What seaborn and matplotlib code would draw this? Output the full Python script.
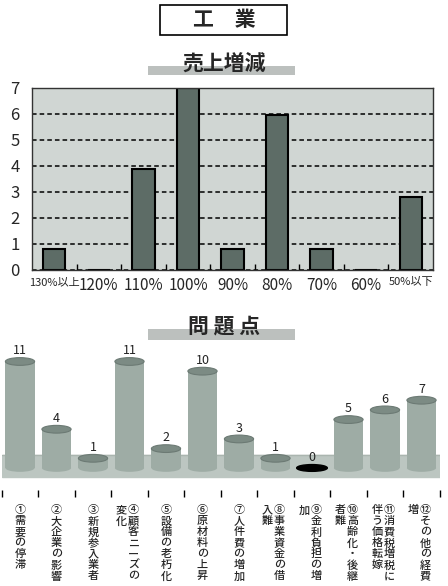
import matplotlib
matplotlib.use("Agg")
import matplotlib.pyplot as plt
import matplotlib.patches as mpatches
import pandas as pd
import seaborn as sns

# 売上増減
sales_labels = ["130%以上", "120%", "110%", "100%", "90%", "80%", "70%", "60%", "50%以下"]
sales_counts = [0.8, 0, 3.9, 7, 0.8, 5.95, 0.8, 0, 2.8]

# 問題点
problem_values = [11, 4, 1, 11, 2, 10, 3, 1, 0, 5, 6, 7]
problem_labels = [
    ["①需要の停滞"],
    ["②大企業の影響"],
    ["③新規参入業者"],
    ["④顧客ニーズの", "変化"],
    ["⑤設備の老朽化"],
    ["⑥原材料の上昇"],
    ["⑦人件費の増加"],
    ["⑧事業資金の借", "入難"],
    ["⑨金利負担の増", "加"],
    ["⑩高齢化・後継", "者難"],
    ["⑪消費税増税に", "伴う価格転嫁"],
    ["⑫その他の経費", "増"],
]

sns.set_theme(style="white")
plt.rcParams["font.family"] = ["Noto Sans CJK JP", "DejaVu Sans"]

W, H = 448, 586
fig = plt.figure(figsize=(W / 100, H / 100), dpi=100)


def fig_rect(x, y, w, h, **kw):
    """rectangle in pixel coords (top-left origin)"""
    r = mpatches.Rectangle((x / W, 1 - (y + h) / H), w / W, h / H,
                           transform=fig.transFigure, **kw)
    fig.add_artist(r)


# titles
fig_rect(160, 5, 127, 30, fill=False, ec="black", lw=1.2)
fig.text(0.5, 1 - 20 / H, "工　業", ha="center", va="center",
         fontsize=15, fontweight="bold")

fig_rect(148, 66, 147, 9, fc="#bcc0be", ec="none")
fig.text(0.5, 1 - 63 / H, "売上増減", ha="center", va="center",
         fontsize=15, fontweight="bold")

fig_rect(148, 329, 147, 11, fc="#bcc0be", ec="none")
fig.text(0.5, 1 - 326 / H, "問 題 点", ha="center", va="center",
         fontsize=15, fontweight="bold")

# ---- top chart ----
ax1 = fig.add_axes([32 / W, 1 - 270 / H, 401 / W, 182 / H])
sns.barplot(x=sales_labels, y=sales_counts, ax=ax1, color="#5d6c66",
            saturation=1, width=0.5, edgecolor="black", linewidth=1.5)
ax1.set_facecolor("#d0d6d3")
ax1.set_xlim(-0.5, 8.5)
ax1.set_ylim(0, 7)
ax1.set_yticks(range(8))
ax1.yaxis.grid(True, linestyle=(0, (3, 2)), color="black", linewidth=1.1)
ax1.set_axisbelow(True)
ax1.set_xticks([i + 0.5 for i in range(8)], minor=True)
ax1.tick_params(axis="x", which="minor", direction="in", length=4,
                width=1, color="black", bottom=True)
ax1.tick_params(axis="x", which="major", length=0, pad=5, labelsize=11)
ax1.tick_params(axis="y", length=0, pad=9, labelsize=12)
for lbl in ax1.get_xticklabels():
    if "以" in lbl.get_text():
        lbl.set_fontsize(8)
        lbl.set_fontstretch("condensed")
for s in ax1.spines.values():
    s.set_color("#333333")
    s.set_linewidth(1)
ax1.set_xlabel("")
ax1.set_ylabel("")

# ---- bottom chart (cylinders) ----
ax2 = fig.add_axes([1.75 / W, 89 / H, 438 / W, 157 / H])
df2 = pd.DataFrame({"item": [str(i) for i in range(len(problem_values))],
                    "value": problem_values})
body = "#9eaca5"
sns.barplot(data=df2, x="item", y="value", ax=ax2, color=body,
            saturation=1, width=0.8, edgecolor="none")
ax2.set_xlim(-0.5, 11.5)
ax2.set_ylim(-3.0, 13.22)
ax2.axhspan(-0.93, 1.34, color="#bcc6c1", zorder=0.5)
ax2.axhline(1.34, color="#aab5af", lw=1, zorder=0.6)

for patch, v in zip(ax2.patches[:len(problem_values)], problem_values):
    cx = patch.get_x() + patch.get_width() / 2
    w = patch.get_width()
    if v == 0:
        ax2.add_patch(mpatches.Ellipse((cx, 0), w * 1.05, 0.7,
                                       fc="black", ec="black", zorder=3))
    else:
        ax2.add_patch(mpatches.Ellipse((cx, 0), w, 0.8, fc=body,
                                       ec="none", zorder=2))
        ax2.add_patch(mpatches.Ellipse((cx, v), w, 0.8, fc="#7c8b84",
                                       ec="#6c7a74", lw=0.8, zorder=3))
    ax2.text(cx, v + 0.45, str(v), ha="center", va="bottom",
             fontsize=9, color="#222222", zorder=4)

ax2.set_xticks(range(len(problem_values)))
ax2.set_xticklabels([])
ax2.set_xticks([i - 0.5 for i in range(len(problem_values) + 1)], minor=True)
ax2.tick_params(axis="x", which="major", length=0)
ax2.tick_params(axis="x", which="minor", direction="in", length=5,
                width=1, color="black", bottom=True)
ax2.set_yticks([])
for s in ax2.spines.values():
    s.set_visible(False)
ax2.set_xlabel("")
ax2.set_ylabel("")

# vertical (tategaki) labels, one character per cell
pitch = 11 * 0.72  # 11 px per character, in points
for i, cols in enumerate(problem_labels):
    offsets = [0] if len(cols) == 1 else [4, -8]
    for col, dx in zip(cols, offsets):
        for k, ch in enumerate(col):
            ax2.annotate(ch, xy=(i, 0), xycoords=("data", "axes fraction"),
                         xytext=(dx * 0.72, -6 - k * pitch),
                         textcoords="offset points", ha="center", va="top",
                         fontsize=8, fontweight="medium")

fig.savefig("out.png", dpi=100)
